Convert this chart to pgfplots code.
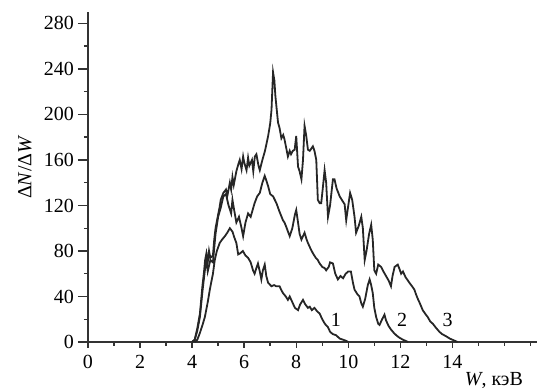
\documentclass[border=0pt]{standalone}
\usepackage{fontspec}
\setmainfont{Liberation Serif}
\usepackage{pgfplots}
\pgfplotsset{compat=1.18}
\begin{document}
\begin{tikzpicture}
\useasboundingbox (-44pt,-25pt) rectangle (225pt,171pt);
\begin{axis}[
  at={(0,0)}, anchor=origin,
  scale only axis, width=224.5pt, height=165pt,
  xmin=0, xmax=17.25, ymin=0, ymax=290,
  axis x line=bottom, axis y line=left,
  axis line style={-, line width=0.9pt, black!80},
  xtick={0,2,...,14}, minor xtick={1,...,17},
  ytick={0,40,...,280}, minor ytick={20,60,...,260},
  tick align=outside,
  major tick length=3pt, minor tick length=2pt,
  ytick style={/pgfplots/major tick length=5pt},
  tick style={line width=0.7pt, black!80},
  /pgf/number format/assume math mode=true,
  tick label style={font=\fontsize{10}{12}\selectfont},
  yticklabel style={xshift=-0.5pt},
  xlabel={\textit{W}, кэВ},
  xlabel style={at={(axis description cs:0.904,0)}, anchor=center, yshift=-19pt},
  ylabel={Δ\textit{N}/Δ\textit{W}},
  ylabel style={at={(axis description cs:-0.1403,0.53)}, anchor=center},
  clip=false,
]
\addplot[black!85, line width=0.9pt] coordinates {
(4.0,0) (4.1,2) (4.2,12) (4.3,25) (4.4,50) (4.45,60) (4.5,72) (4.55,78) (4.6,70) (4.65,80) (4.7,74) (4.8,76) (4.85,90) (4.9,100) (5.0,112) (5.06,119) (5.1,125) (5.2,131) (5.3,134) (5.35,128) (5.45,140) (5.5,134) (5.55,145) (5.6,138) (5.7,150) (5.76,155) (5.83,160) (5.9,152) (5.96,163) (6.0,158) (6.09,151) (6.15,162) (6.2,155) (6.3,160) (6.35,150) (6.41,163) (6.47,165) (6.55,155) (6.6,151) (6.7,160) (6.8,168) (6.92,181) (7.0,192) (7.05,204) (7.11,237) (7.16,230) (7.2,216) (7.3,193) (7.36,188) (7.43,179) (7.5,182) (7.55,178) (7.62,170) (7.68,163) (7.75,168) (7.8,165) (7.87,168) (7.94,169) (8.0,181) (8.07,154) (8.13,150) (8.2,143) (8.26,160) (8.32,190) (8.38,182) (8.45,169) (8.52,168) (8.64,172) (8.7,168) (8.77,160) (8.83,125) (8.9,122) (8.96,122) (9.02,135) (9.09,151) (9.15,140) (9.22,110) (9.3,120) (9.41,143) (9.47,143) (9.55,135) (9.67,128) (9.75,125) (9.86,121) (9.92,107) (10.0,120) (10.07,131) (10.15,125) (10.24,110) (10.3,96) (10.4,102) (10.5,110) (10.56,100) (10.63,72) (10.7,80) (10.8,95) (10.88,103) (10.94,90) (11.0,63) (11.07,60) (11.15,68) (11.26,66) (11.35,62) (11.45,58) (11.55,54) (11.64,49) (11.7,58) (11.78,66) (11.9,68) (11.97,64) (12.03,60) (12.1,62) (12.2,57) (12.35,52) (12.45,49) (12.54,46) (12.6,42) (12.67,38) (12.75,34) (12.86,28) (12.95,25) (13.05,22) (13.15,18) (13.25,16) (13.35,13) (13.5,9) (13.6,7) (13.76,5) (13.9,3) (14.0,2) (14.2,0)
};
\addplot[black!85, line width=0.9pt] coordinates {
(4.0,0) (4.1,2) (4.2,10) (4.3,22) (4.4,45) (4.5,65) (4.55,72) (4.6,62) (4.7,72) (4.8,70) (4.9,95) (5.0,110) (5.1,118) (5.2,128) (5.3,130) (5.4,120) (5.5,113) (5.55,125) (5.6,118) (5.7,105) (5.8,110) (5.9,100) (5.96,93) (6.05,105) (6.15,113) (6.25,110) (6.4,122) (6.5,128) (6.6,131) (6.7,140) (6.79,146) (6.85,142) (6.92,137) (7.0,130) (7.11,128) (7.24,122) (7.35,115) (7.49,107) (7.55,105) (7.62,101) (7.7,96) (7.75,93) (7.85,100) (7.95,112) (8.0,116) (8.07,105) (8.13,95) (8.2,90) (8.32,96) (8.4,90) (8.45,87) (8.55,82) (8.64,78) (8.75,74) (8.83,72) (8.9,69) (9.0,66) (9.09,65) (9.15,63) (9.25,66) (9.3,70) (9.41,69) (9.5,60) (9.6,55) (9.7,58) (9.8,56) (9.9,60) (10.0,62) (10.1,62) (10.18,52) (10.24,46) (10.35,42) (10.43,40) (10.5,34) (10.56,31) (10.65,38) (10.75,50) (10.82,55) (10.88,50) (10.94,43) (11.0,30) (11.07,22) (11.15,16) (11.2,15) (11.3,20) (11.39,24) (11.45,19) (11.55,14) (11.64,11) (11.75,8) (11.84,6) (11.95,4) (12.1,2) (12.3,0)
};
\addplot[black!85, line width=0.9pt] coordinates {
(4.1,0) (4.2,2) (4.3,8) (4.4,15) (4.49,22) (4.6,35) (4.68,46) (4.8,60) (4.87,72) (4.95,80) (5.06,87) (5.15,90) (5.26,93) (5.35,96) (5.45,100) (5.55,97) (5.62,92) (5.7,87) (5.77,77) (5.85,78) (5.95,80) (6.05,76) (6.15,74) (6.25,70) (6.34,63) (6.4,60) (6.47,65) (6.53,69) (6.6,62) (6.66,55) (6.72,63) (6.79,68) (6.85,58) (6.92,52) (7.05,49) (7.15,50) (7.23,49) (7.36,49) (7.42,46) (7.49,43) (7.6,40) (7.68,37) (7.75,40) (7.87,34) (7.95,30) (8.07,28) (8.15,33) (8.26,37) (8.35,33) (8.45,30) (8.52,31) (8.6,28) (8.7,30) (8.8,27) (8.9,25) (9.0,20) (9.1,16) (9.22,13) (9.3,9) (9.4,7) (9.53,6) (9.67,3) (9.8,2) (9.92,1) (10.0,0)
};
\node[font=\fontsize{10}{12}\selectfont] at (axis cs:9.52,19) {1};
\node[font=\fontsize{10}{12}\selectfont] at (axis cs:12.07,19) {2};
\node[font=\fontsize{10}{12}\selectfont] at (axis cs:13.82,19) {3};
\end{axis}
\end{tikzpicture}
\end{document}
